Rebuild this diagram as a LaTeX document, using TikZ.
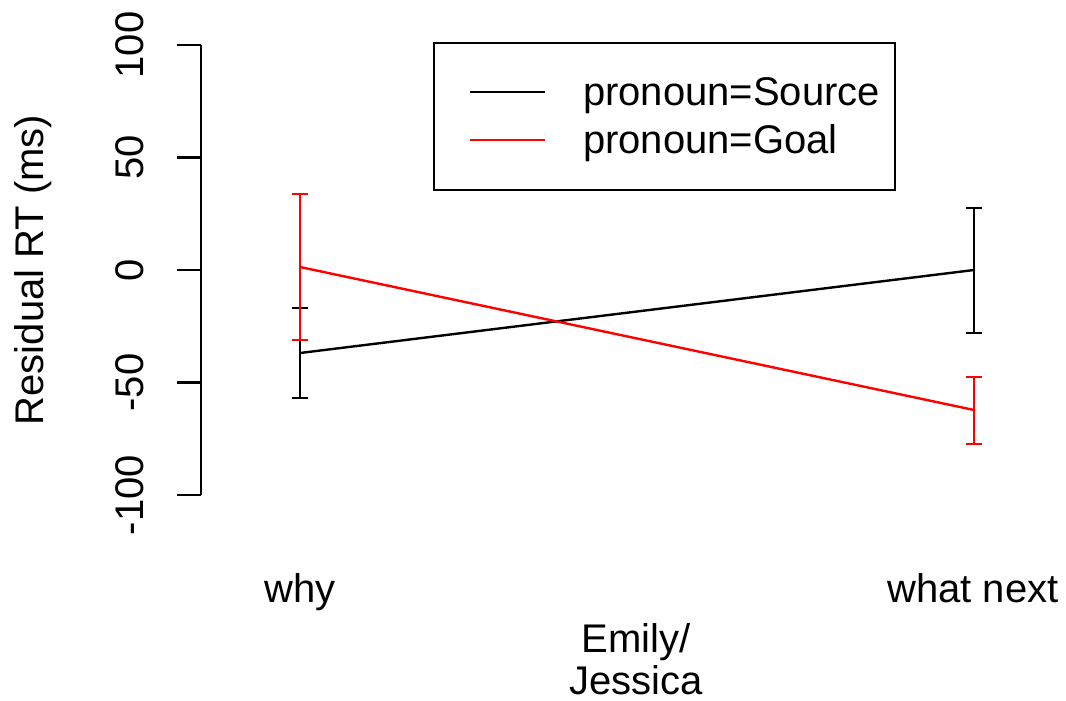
\documentclass[tikz,border=0pt]{standalone}
\usepackage{fontspec}
\setmainfont{Liberation Sans}
\begin{document}
\begin{tikzpicture}[x=1pt,y=-1pt,
  every node/.style={inner sep=0pt,outer sep=0pt,font=\fontsize{40}{46}\selectfont},
  axisline/.style={line width=2.4pt,black,line cap=butt},
  series/.style={line width=2.4pt},
  ebar/.style={line width=2.4pt},
  tlabel/.style={rotate=90,anchor=center}]
\useasboundingbox (0,0) rectangle (1066,701);
% y axis
\coordinate (ytop) at (201,45);
\coordinate (ybot) at (201,495);
\draw[axisline] (ytop) -- (ybot);
\foreach \y/\lab in {45/100,157.5/50,270/0,382.5/-50,495/-100}{
  \coordinate (tk\lab) at (201,\y);
  \coordinate (tl\lab) at (177,\y);
  \draw[axisline] (tk\lab) -- (tl\lab);
  \node[tlabel] (lab\lab) at (130,\y) {\lab};
}
\node[rotate=90] (ylab) at (33,270) {Residual RT (ms)};
% x labels
\node[anchor=base] (why) at (300,602) {why};
\node[anchor=base] (wn) at (973,602) {what next};
\node[anchor=base] (xlab1) at (636,652) {Emily/};
\node[anchor=base] (xlab2) at (636,694) {Jessica};
% data points
\coordinate (s1) at (300,353);
\coordinate (s2) at (974,270);
\coordinate (g1) at (300,267);
\coordinate (g2) at (974,410);
% error bars endpoints
\coordinate (s1t) at (300,308);
\coordinate (s1b) at (300,398);
\coordinate (s2t) at (974,208);
\coordinate (s2b) at (974,333);
\coordinate (g1t) at (300,194);
\coordinate (g1b) at (300,340);
\coordinate (g2t) at (974,377);
\coordinate (g2b) at (974,444);
% source (black)
\draw[series,black] (s1) -- (s2);
\draw[ebar,black] (s1t) -- (s1b);
\draw[ebar,black] ([xshift=-8pt]s1t) -- ([xshift=8pt]s1t);
\draw[ebar,black] ([xshift=-8pt]s1b) -- ([xshift=8pt]s1b);
\draw[ebar,black] (s2t) -- (s2b);
\draw[ebar,black] ([xshift=-8pt]s2t) -- ([xshift=8pt]s2t);
\draw[ebar,black] ([xshift=-8pt]s2b) -- ([xshift=8pt]s2b);
% goal (red)
\draw[series,red] (g1) -- (g2);
\draw[ebar,red] (g1t) -- (g1b);
\draw[ebar,red] ([xshift=-8pt]g1t) -- ([xshift=8pt]g1t);
\draw[ebar,red] ([xshift=-8pt]g1b) -- ([xshift=8pt]g1b);
\draw[ebar,red] (g2t) -- (g2b);
\draw[ebar,red] ([xshift=-8pt]g2t) -- ([xshift=8pt]g2t);
\draw[ebar,red] ([xshift=-8pt]g2b) -- ([xshift=8pt]g2b);
% legend
\node[draw,line width=2.4pt,minimum width=461pt,minimum height=147pt,anchor=north west] (legend) at (434,43) {};
\coordinate (la1) at (470,92);
\coordinate (lb1) at (545,92);
\coordinate (la2) at (470,140);
\coordinate (lb2) at (545,140);
\draw[series,black] (la1) -- (lb1);
\draw[series,red] (la2) -- (lb2);
\node[anchor=base west] (legs) at (583,105.5) {pronoun=Source};
\node[anchor=base west] (legg) at (583,153.5) {pronoun=Goal};
\end{tikzpicture}
\end{document}
